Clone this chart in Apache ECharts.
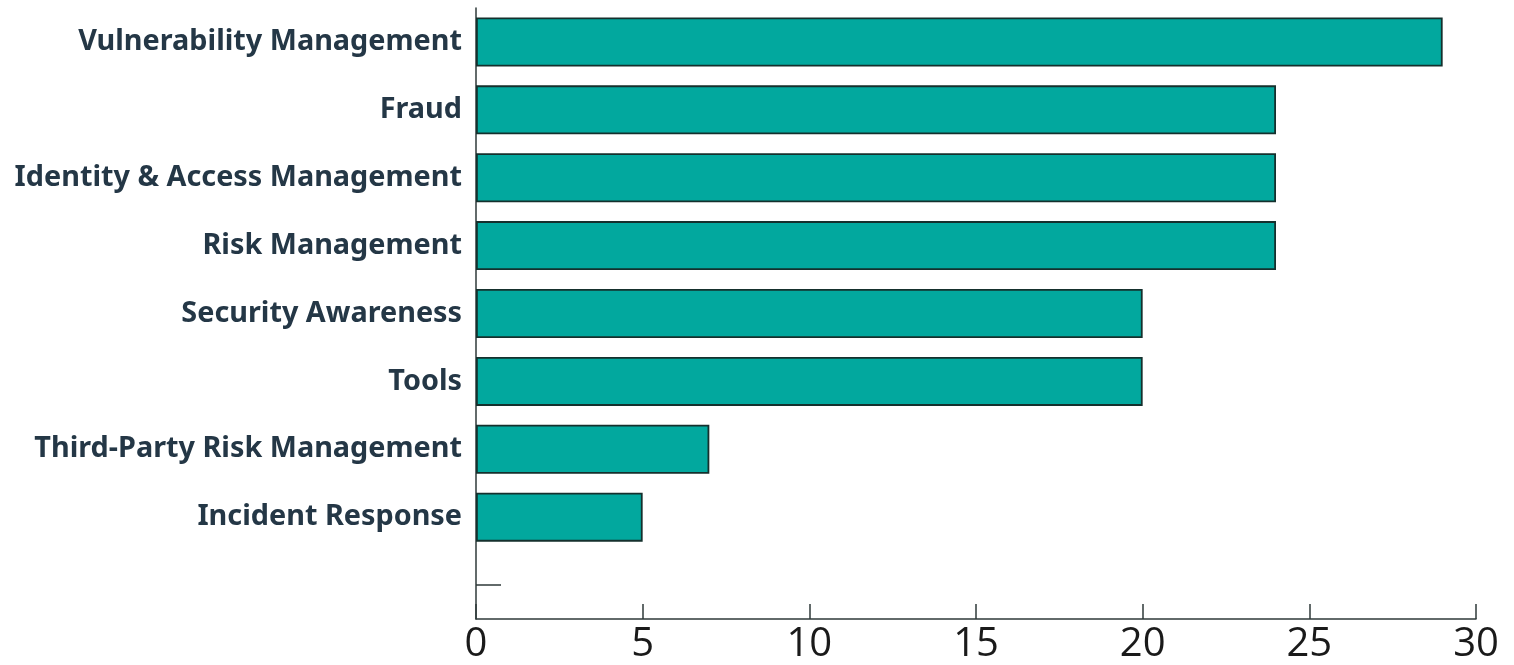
<!DOCTYPE html>
<html>
<head>
<meta charset="utf-8">
<script src="https://cdn.jsdelivr.net/npm/echarts@6/dist/echarts.min.js"></script>
<style>
  html, body { margin: 0; padding: 0; background: #ffffff; }
  #chart { width: 1514px; height: 665px; }
</style>
</head>
<body>
<div id="chart"></div>
<script>
// Focus areas, top to bottom; the trailing empty slot leaves a gap above the x axis
const categories = [
  'Vulnerability Management',
  'Fraud',
  'Identity & Access Management',
  'Risk Management',
  'Security Awareness',
  'Tools',
  'Third-Party Risk Management',
  'Incident Response',
  ''
];
const counts = [29, 24, 24, 24, 20, 20, 7, 5, null];
const xTicks = [0, 5, 10, 15, 20, 25, 30];

const chart = echarts.init(document.getElementById('chart'), null, { renderer: 'canvas' });

chart.setOption({
  animation: false,
  grid: {
    left: 476, right: 38, top: 8, bottom: 46,
    containLabel: false,
    outerBoundsMode: 'none'
  },
  xAxis: {
    type: 'value',
    min: xTicks[0],
    max: xTicks[xTicks.length - 1],
    interval: xTicks[1] - xTicks[0],
    splitLine: { show: false },
    axisLine: { show: true, lineStyle: { color: '#2f3a3a', width: 1.5 } },
    axisTick: { show: true, inside: true, length: 15, lineStyle: { color: '#2f3a3a', width: 1.5 } },
    axisLabel: {
      color: '#1a1a1a',
      fontFamily: 'Open Sans',
      fontSize: 40,
      margin: 6
    }
  },
  yAxis: {
    type: 'category',
    data: categories,
    inverse: true,
    axisLine: { show: true, lineStyle: { color: '#2f3a3a', width: 1.5 } },
    axisTick: { show: true, inside: true, alignWithLabel: true, length: 25, lineStyle: { color: '#2f3a3a', width: 1.5 } },
    axisLabel: {
      color: '#243746',
      fontFamily: 'Noto Sans',
      fontWeight: 'bold',
      fontSize: 28.8,
      margin: 14
    }
  },
  series: [{
    type: 'bar',
    data: counts,
    barWidth: 49,
    itemStyle: {
      color: '#02a89e',
      borderColor: '#15302d',
      borderWidth: 1.8
    }
  }]
});
</script>
</body>
</html>
